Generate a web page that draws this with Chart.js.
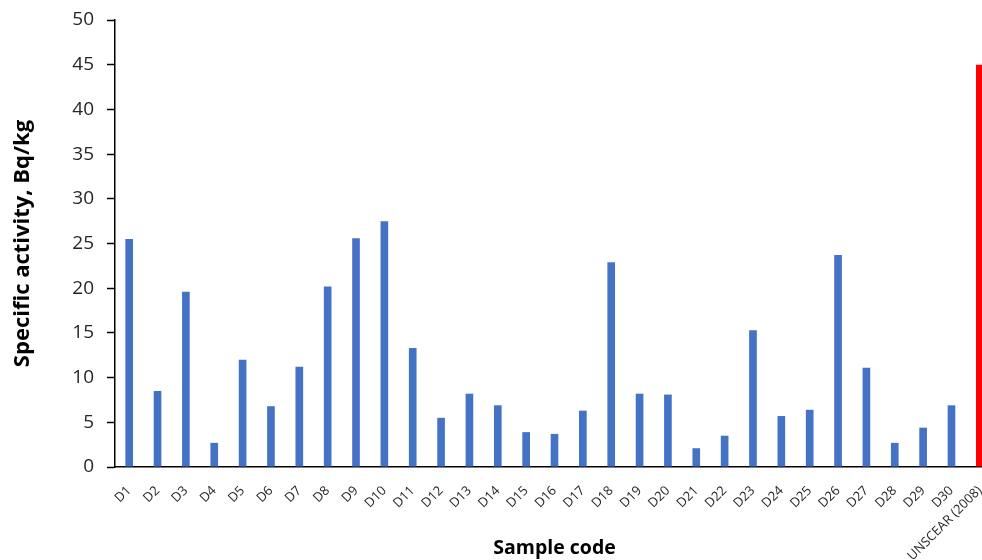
<!DOCTYPE html>
<html>
<head>
<meta charset="utf-8">
<script src="https://cdn.jsdelivr.net/npm/chart.js@4.4.1/dist/chart.umd.min.js"></script>
<style>
  html, body { margin: 0; padding: 0; background: #fff; overflow: hidden; }
  #wrap { position: relative; width: 1000px; height: 560px; }
</style>
</head>
<body>
<div id="wrap"><canvas id="chart"></canvas></div>
<script>
var sampleCodes = ["D1", "D2", "D3", "D4", "D5", "D6", "D7", "D8", "D9", "D10",
  "D11", "D12", "D13", "D14", "D15", "D16", "D17", "D18", "D19", "D20",
  "D21", "D22", "D23", "D24", "D25", "D26", "D27", "D28", "D29", "D30",
  "UNSCEAR (2008)"];
var activity = [25.5, 8.5, 19.6, 2.7, 12.0, 6.8, 11.2, 20.2, 25.6, 27.5,
  13.3, 5.5, 8.2, 6.9, 3.9, 3.7, 6.3, 22.9, 8.2, 8.1,
  2.1, 3.5, 15.3, 5.7, 6.4, 23.7, 11.1, 2.7, 4.4, 6.9,
  45];
var yTicks = [0, 5, 10, 15, 20, 25, 30, 35, 40, 45, 50];

var barColors = sampleCodes.map(function(c) {
  return c.indexOf("UNSCEAR") === 0 ? "#FF0000" : "#4472C4";
});

var ctx = document.getElementById("chart");

var activityChart = new Chart(ctx, {
  type: "bar",
  data: {
    labels: sampleCodes,
    datasets: [{
      data: activity,
      backgroundColor: barColors,
      borderWidth: 0,
      barPercentage: 0.27,
      categoryPercentage: 1
    }]
  },
  options: {
    responsive: true,
    maintainAspectRatio: false,
    animation: false,
    layout: {
      padding: { top: 20, right: 6, bottom: 0, left: 0 }
    },
    plugins: {
      legend: { display: false },
      tooltip: { enabled: false }
    },
    scales: {
      x: {
        grid: { display: false, drawTicks: false },
        border: { display: true, color: "#000", width: 1.5 },
        ticks: {
          minRotation: 45,
          maxRotation: 45,
          autoSkip: false,
          padding: 16,
          color: "#262626",
          font: { family: "Open Sans", size: 13 }
        },
        title: {
          display: true,
          text: "Sample code",
          color: "#000",
          padding: { top: 0, bottom: 0 },
          font: { family: "Open Sans", size: 19.5, weight: "bold" }
        },
        afterFit: function(scale) {
          scale.height = 93;
          scale.paddingLeft = 0;
          scale.paddingRight = 0;
        }
      },
      y: {
        min: 0,
        max: 50,
        afterBuildTicks: function(scale) {
          scale.ticks = yTicks.map(function(v) { return { value: v }; });
        },
        grid: {
          drawOnChartArea: false,
          drawTicks: true,
          tickLength: 8,
          tickColor: "#000",
          tickWidth: 1.5
        },
        border: { display: true, color: "#000", width: 1.5 },
        ticks: {
          padding: 13,
          color: "#262626",
          font: { family: "Open Sans", size: 19 }
        },
        title: {
          display: true,
          text: "Specific activity, Bq/kg",
          color: "#000",
          padding: { top: 10, bottom: 0 },
          font: { family: "Open Sans", size: 22, weight: "bold" }
        },
        afterFit: function(scale) {
          scale.width = 115;
          scale.paddingTop = 0;
          scale.paddingBottom = 0;
        }
      }
    }
  }
});
</script>
</body>
</html>
